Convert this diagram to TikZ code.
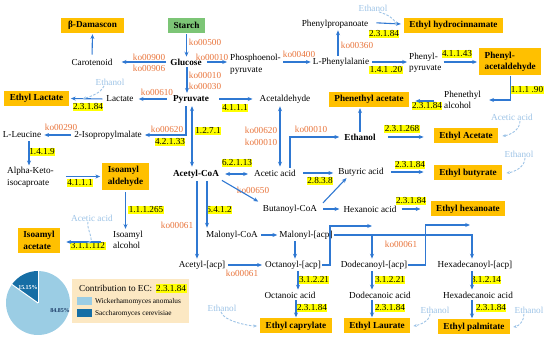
\documentclass[tikz,border=0pt]{standalone}
\usepackage{fontspec}
\setmainfont{Liberation Serif}
\usetikzlibrary{arrows.meta,calc}
\definecolor{arrb}{HTML}{2F78D2}
\definecolor{koor}{HTML}{E8743B}
\definecolor{ltb}{HTML}{9DC3E6}
\definecolor{boxor}{HTML}{FFC000}
\definecolor{grn}{HTML}{7CC576}
\definecolor{hl}{HTML}{FFFF00}
\definecolor{pielt}{HTML}{9BCDE4}
\definecolor{piedk}{HTML}{166EA5}
\definecolor{legbg}{HTML}{FCE8C3}
\definecolor{navy}{HTML}{1B3A66}
\newcommand\fsz{\fontsize{9.2}{11.5}\selectfont}
\begin{document}
\begin{tikzpicture}[x=1pt,y=-1pt,
  every node/.style={font=\fsz, inner sep=1pt},
  obox/.style={fill=boxor, font=\fsz\bfseries, inner xsep=5.5pt, inner ysep=0pt, minimum height=15pt},
  gbox/.style={obox, fill=grn},
  bld/.style={font=\fsz\bfseries},
  ec/.style={fill=hl, inner xsep=0.5pt, inner ysep=0.8pt, text height=6.3pt, text depth=0.6pt},
  ko/.style={text=koor, inner sep=0.5pt},
  lt/.style={text=ltb, inner sep=0.5pt},
  arr/.style={draw=arrb, line width=1.1pt, -{Stealth[length=4.8pt,width=4pt]}},
  darr/.style={arr, {Stealth[length=4.8pt,width=4pt]}-{Stealth[length=4.8pt,width=4pt]}},
  dsh/.style={draw=ltb, dash pattern=on 2.5pt off 1.5pt, line width=0.9pt, -{Stealth[length=3.5pt,width=3pt]}}
]
\useasboundingbox (0,0) rectangle (550,347);

% ---------- nodes ----------
\node[gbox] (starch) at (186.5,25.5) {Starch};
\node[obox, minimum width=63pt] (dam) at (92.5,25.5) {β-Damascon};
\node[obox] (ehc) at (453.5,25.5) {Ethyl hydrocinnamate};
\node (car) at (92,62) {Carotenoid};
\node[bld] (glu) at (186,62) {Glucose};
\node[align=left, anchor=west] (pep) at (229,64.5) {Phosphoenol-\\pyruvate};
\node (phe) at (341,62) {L-Phenylalanie};
\node (ppa) at (335,24) {Phenylpropanoate};
\node[lt] (e1) at (373,8) {Ethanol};
\node[align=left, anchor=west] (phpyr) at (408,63) {Phenyl-\\pyruvate};
\node[obox, align=left, minimum height=27pt, anchor=west] (phald) at (479,62) {Phenyl-\\acetaldehyde};
\node (lac) at (120,99) {Lactate};
\node[obox] (etl) at (36.5,98.5) {Ethyl Lactate};
\node[lt] (e2) at (110,82) {Ethanol};
\node[bld] (pyr) at (191,99) {Pyruvate};
\node (acald) at (285,99) {Acetaldehyde};
\node[obox] (phac) at (369,99.5) {Phenethyl acetate};
\node[align=left, anchor=west] (phalc) at (443,100) {Phenethyl\\alcohol};
\node (leu) at (22,135) {L-Leucine};
\node (ipm) at (108,135) {2-Isopropylmalate};
\node[align=left, anchor=west] (aki) at (6,177.5) {Alpha-Keto-\\isocaproate};
\node[obox, align=left, minimum height=27pt] (iald) at (125.5,176.5) {Isoamyl\\aldehyde};
\node[align=left, anchor=west] (iaalc) at (112,240) {Isoamyl\\alcohol};
\node[obox, align=left, minimum height=25pt] (iaac) at (39,240.5) {Isoamyl\\acetate};
\node[lt] (aa1) at (92,218) {Acetic acid};
\node[bld] (acoa) at (196,174) {Acetyl-CoA};
\node (acet) at (275,173) {Acetic acid};
\node[bld] (etoh) at (360,137) {Ethanol};
\node (but) at (361,172) {Butyric acid};
\node (bcoa) at (290,209) {Butanoyl-CoA};
\node (hex) at (370,209) {Hexanoic acid};
\node[obox] (eta) at (466,136) {Ethyl Acetate};
\node[obox] (etb) at (468,173) {Ethyl butyrate};
\node[obox] (ethx) at (468,209) {Ethyl hexanoate};
\node[lt] (aa2) at (512,117) {Acetic acid};
\node[lt] (e3) at (519,154) {Ethanol};
\node (mcoa) at (232,235) {Malonyl-CoA};
\node (macp) at (306,235) {Malonyl-[acp]};
\node (aacp) at (202,265) {Acetyl-[acp]};
\node (oacp) at (293,265) {Octanoyl-[acp]};
\node (dacp) at (374,265) {Dodecanoyl-[acp]};
\node (hacp) at (475,265) {Hexadecanoyl-[acp]};
\node (oa) at (290,295) {Octanoic acid};
\node (da) at (380,295) {Dodecanoic acid};
\node (ha) at (478,295) {Hexadecanoic acid};
\node[obox] (ecap) at (296,326) {Ethyl caprylate};
\node[obox] (elau) at (377,326) {Ethyl Laurate};
\node[obox] (epal) at (474,327) {Ethyl palmitate};
\node[lt] (e4) at (222,308) {Ethanol};
\node[lt] (e5) at (435,310) {Ethanol};
\node[lt] (e6) at (529,310) {Ethanol};

% ---------- EC labels ----------
\node[ec] at (88,107) {2.3.1.84};
\node[ec] at (235,108) {4.1.1.1};
\node[ec] at (384,34) {2.3.1.84};
\node[ec] at (386,70) {1.4.1 .20};
\node[ec] at (457,54) {4.1.1.43};
\node[ec] at (527,90) {1.1.1 .90};
\node[ec] at (427,106) {2.3.1.84};
\node[ec] at (208,131) {1.2.7.1};
\node[ec] at (170,142) {4.2.1.33};
\node[ec] at (42,152) {1.4.1.9};
\node[ec] at (80,183) {4.1.1.1};
\node[ec] at (146,210) {1.1.1.265};
\node[ec] at (88,246) {3.1.1.112};
\node[ec] at (237,163) {6.2.1.13};
\node[ec] at (320,181) {2.8.3.8};
\node[ec] at (219,210) {6.4.1.2};
\node[ec] at (402,129) {2.3.1.268};
\node[ec] at (410,165) {2.3.1.84};
\node[ec] at (411,201) {2.3.1.84};
\node[ec] at (314,280) {3.1.2.21};
\node[ec] at (312,308) {2.3.1.84};
\node[ec] at (390,280) {3.1.2.21};
\node[ec] at (390,308) {2.3.1.84};
\node[ec] at (486,280) {3.1.2.14};
\node[ec] at (491,308) {2.3.1.84};

% ---------- KEGG labels ----------
\node[ko] at (205,42) {ko00500};
\node[ko] at (149,57) {ko00900};
\node[ko] at (149,68) {ko00906};
\node[ko] at (212,57) {ko00010};
\node[ko] at (205,75) {ko00010};
\node[ko] at (205,86) {ko00030};
\node[ko] at (157,92) {ko00610};
\node[ko] at (299,54) {ko00400};
\node[ko] at (357,45) {ko00360};
\node[ko] at (61,127) {ko00290};
\node[ko] at (167,129) {ko00620};
\node[ko] at (261,130) {ko00620};
\node[ko] at (261,142) {ko00010};
\node[ko] at (311,129) {ko00010};
\node[ko] at (253,190) {ko00650};
\node[ko] at (177,225) {ko00061};
\node[ko] at (242,273) {ko00061};
\node[ko] at (401,244) {ko00061};

% ---------- connectors ----------
\draw[arr, shorten <=1pt, shorten >=1pt] (starch.south) -- (starch.south |- glu.north);
\draw[arr, shorten <=3pt, shorten >=8pt] (glu.west) -- (car.east);
\draw[arr, shorten <=4pt, shorten >=2pt] (glu.east) -- (glu.east -| pep.west);
\draw[arr, shorten <=1pt, shorten >=1pt] ([xshift=1pt]glu.south) -- ([xshift=1pt]glu.south |- pyr.north);
\draw[arr, shorten <=3pt, shorten >=1pt] (car.north) -- (dam.south);
\draw[arr, shorten <=5pt, shorten >=4pt] (pyr.west) -- (lac.east);
\draw[arr, shorten <=3pt, shorten >=2pt] (lac.west) -- (etl.east);
\coordinate (c1) at ($(lac.west)!0.62!(etl.east)$);
\draw[dsh] ([xshift=-6pt]e2.south) .. controls +(-3,7) and +(8,-2) .. (c1);
\draw[arr, shorten <=9pt, shorten >=6pt] (pyr.east) -- (acald.west);
\draw[arr, shorten <=1pt, shorten >=1pt] (pep.east |- phe.west) -- (phe.west);
\draw[arr, shorten <=1pt, shorten >=1pt] ([xshift=-3pt]phe.north) -- ([xshift=-3pt]phe.north |- ppa.south);
\coordinate (c2) at ([xshift=-3pt,yshift=1.5pt]ehc.west);
\draw[arr, shorten <=7pt] ([yshift=1.5pt]ppa.east) -- (c2);
\draw[dsh] ([xshift=6pt]e1.south) .. controls +(10,3) and +(-3,-6) .. ([xshift=-4pt,yshift=-1pt]c2);
\draw[arr, shorten <=2pt, shorten >=1pt] (phe.east) -- (phe.east -| phpyr.west);
\draw[arr, shorten <=1pt, shorten >=2pt] (phpyr.east |- phald.west) -- (phald.west);
\draw[arr, shorten >=1pt] ([xshift=0pt]phald.south) |- ([xshift=6pt]phalc.east);
\draw[arr, shorten <=9pt, shorten >=6pt] ([yshift=-1pt]phalc.west) -- ([yshift=-1pt]phalc.west -| phac.east);
\draw[arr, shorten <=1pt, shorten >=1pt] (etoh.north) -- (etoh.north |- phac.south);
\draw[darr, shorten <=2pt, shorten >=2pt] ([xshift=1pt]pyr.south) -- ([xshift=1pt]pyr.south |- acoa.north);
\draw[arr, shorten <=2pt, shorten >=2pt] ([xshift=-5pt]pyr.south) |- (ipm.east);
\draw[arr, shorten <=2pt, shorten >=2pt] (ipm.west) -- (leu.east);
\draw[arr, shorten <=2pt, shorten >=1pt] ([xshift=7pt]leu.south) -- ([xshift=7pt]leu.south |- aki.north);
\draw[arr, shorten <=11pt, shorten >=2pt] (aki.east |- iald.west) -- (iald.west);
\draw[arr, shorten <=2pt, shorten >=1pt] (iald.south) -- (iald.south |- iaalc.north);
\coordinate (c3) at ([xshift=-11pt,yshift=-2pt]iaalc.west);
\draw[arr, shorten >=6pt] (c3) -- (c3 -| iaac.east);
\draw[dsh] ([xshift=-4pt]aa1.south) .. controls +(-2,6) and +(8,-2) .. ([xshift=-14pt,yshift=-1pt]c3);
\draw[darr, shorten <=2pt, shorten >=2pt] ([xshift=-5pt]acald.south) -- ([xshift=-5pt]acald.south |- acet.north);
\draw[arr, shorten <=1pt, shorten >=4pt] ([xshift=15pt]acet.north) |- (etoh.west);
\draw[arr, shorten <=11pt, shorten >=10pt] (etoh.east) -- (etoh.east -| eta.west);
\draw[dsh] ([xshift=8pt]aa2.south) .. controls +(0,9) and +(8,-1) .. ([xshift=4pt]eta.east);
\draw[darr, shorten <=5pt, shorten >=5pt] (acoa.east) -- (acoa.east -| acet.west);
\draw[arr, shorten <=6pt, shorten >=4pt] (acet.east) -- (acet.east -| but.west);
\draw[arr, shorten <=2pt, shorten >=4pt] (acoa.south east) -- (bcoa.north west);
\draw[arr, shorten <=1pt, shorten >=1pt] ([xshift=4pt]bcoa.north east) -- ([xshift=10pt]but.south west);
\draw[arr, shorten <=5pt, shorten >=3pt] (bcoa.east) -- (bcoa.east -| hex.west);
\draw[arr, shorten <=6pt, shorten >=10pt] (but.east) -- (but.east -| etb.west);
\draw[dsh] ([xshift=6pt]e3.south) .. controls +(0,9) and +(8,-1) .. ([xshift=4pt]etb.east);
\draw[arr, shorten <=4pt, shorten >=10pt] (hex.east) -- (hex.east -| ethx.west);
\draw[arr, shorten <=2pt, shorten >=1pt] ([xshift=1pt]acoa.south) -- ([xshift=1pt]acoa.south |- aacp.north);
\draw[arr, shorten <=2pt, shorten >=2pt] ([xshift=11pt]acoa.south) -- ([xshift=11pt]acoa.south |- mcoa.north);
\draw[arr, shorten <=2pt, shorten >=1pt] (mcoa.east) -- (macp.west);
\draw[arr, shorten <=2pt, shorten >=2pt] (aacp.east) -- (oacp.west);
\draw[arr, shorten <=1pt, shorten >=1pt] ([xshift=-11pt]macp.south) -- ([xshift=-11pt]macp.south |- oacp.north);
\draw[arr, shorten >=1pt] (macp.east) -| ([xshift=-3pt]hacp.north);
\coordinate (jt) at ([xshift=-2pt]macp.east -| dacp.north);
\draw[arr, shorten >=1pt] (jt) -- ([xshift=-2pt]dacp.north);
\coordinate (jd) at ([yshift=9pt]jt);
\draw[arr] (oacp.east) -- ++(8,0) |- (jd);
\coordinate (jh) at ([xshift=-5pt,yshift=10pt]macp.east -| hacp.north);
\draw[arr] (dacp.east) -- ++(17,0) |- (jh);
\draw[arr, shorten <=1pt, shorten >=1pt] ([xshift=5pt]oacp.south) -- ([xshift=5pt]oacp.south |- oa.north);
\draw[arr, shorten <=1pt, shorten >=1pt] (ecap.north |- oa.south) -- (ecap.north);
\draw[arr, shorten <=1pt, shorten >=1pt] ([xshift=-2pt]dacp.south) -- ([xshift=-2pt]dacp.south |- da.north);
\draw[arr, shorten <=1pt, shorten >=1pt] ([xshift=-5pt]elau.north |- da.south) -- ([xshift=-5pt]elau.north);
\draw[arr, shorten <=1pt, shorten >=1pt] ([xshift=-3pt]hacp.south) -- ([xshift=-3pt]hacp.south |- ha.north);
\draw[arr, shorten <=1pt, shorten >=1pt] ([xshift=-2pt]epal.north |- ha.south) -- ([xshift=-2pt]epal.north);
\draw[dsh] ([xshift=-1pt]e4.south) .. controls +(2,9) and +(-8,0) .. ([xshift=-3pt]ecap.west);
\draw[dsh] ([xshift=-5pt]e5.south) .. controls +(0,7) and +(6,-1) .. ([xshift=3pt]elau.east);
\draw[dsh] ([xshift=-5pt]e6.south) .. controls +(0,7) and +(6,-1) .. ([xshift=3pt]epal.east);

% ---------- pie chart ----------
\coordinate (pc) at (38,303);
\fill[pielt] (pc) -- ++(144.5:32pt) arc[start angle=144.5, end angle=450, radius=32pt] -- cycle;
\fill[piedk] (pc) -- ++(90:32pt) arc[start angle=90, end angle=144.5, radius=32pt] -- cycle;
\draw[white, line width=1pt] (pc) -- ++(90:32pt);
\draw[white, line width=1pt] (pc) -- ++(144.5:32pt);
\node[text=white, font=\bfseries\fontsize{6}{7}\selectfont] (p1) at (28,288) {15.15\%};
\node[text=navy, font=\bfseries\fontsize{6}{7}\selectfont] (p2) at (60,311) {84.85\%};

% ---------- legend ----------
\node[fill=legbg, minimum width=117pt, minimum height=44pt, inner sep=0pt, anchor=north west] (leg) at (72,279) {};
\node[anchor=west] (lgt) at (78,288.5) {Contribution to EC:};
\node[ec, anchor=west] (lge) at ([xshift=2pt]lgt.east) {2.3.1.84};
\node[fill=pielt, minimum width=15pt, minimum height=8pt, inner sep=0pt, anchor=west] (sq1) at (77,301.5) {};
\node[fill=piedk, minimum width=15pt, minimum height=8pt, inner sep=0pt, anchor=west] (sq2) at (77,313.5) {};
\node[anchor=west, font=\fontsize{7.3}{9}\selectfont] (lg1) at ([xshift=1.5pt]sq1.east) {Wickerhamomyces anomalus};
\node[anchor=west, font=\fontsize{7.3}{9}\selectfont] (lg2) at ([xshift=1.5pt]sq2.east) {Saccharomyces cerevisiae};
\end{tikzpicture}
\end{document}
